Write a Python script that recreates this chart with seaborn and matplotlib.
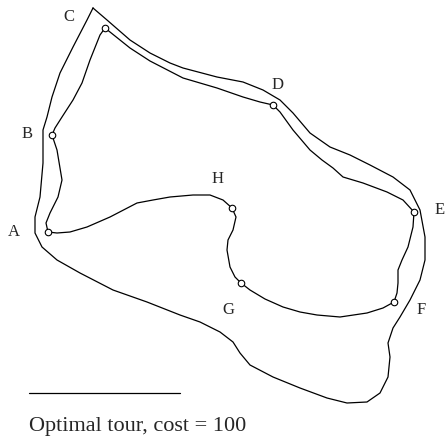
import numpy as np
import pandas as pd
import seaborn as sns
import matplotlib
matplotlib.use('Agg')
import matplotlib.pyplot as plt

# city positions (picture pixels, y downwards) and their labels
cities = ['A', 'B', 'C', 'D', 'E', 'F', 'G', 'H']
city_x = [48, 52, 105, 273, 414, 394, 241, 232]
city_y = [232, 135, 28, 105, 212, 302, 283, 208]
label_x = [14, 27, 69, 278, 440, 421, 228, 218]
label_y = [232, 134, 17, 85, 210, 310, 310, 179]

# the tour through the cities: A H G F E D C B A
tour_x = [48, 57, 70, 87, 110, 137, 153, 170, 193, 210, 223, 232,
          236, 233, 228, 227, 230, 235, 241,
          250, 265, 283, 300, 317, 340, 367, 383, 394,
          397, 398, 398, 402, 408, 413, 414,
          403, 387, 363, 343, 333, 322, 310, 293, 280, 273,
          260, 243, 217, 183, 150, 130, 105,
          100, 90, 82, 73, 62, 55, 52,
          57, 62, 58, 50, 46, 48]
tour_y = [232, 233, 232, 227, 217, 203, 200, 197, 195, 195, 200, 208,
          217, 230, 240, 250, 267, 277, 283,
          290, 299, 307, 312, 315, 317, 313, 308, 302,
          293, 283, 270, 260, 247, 227, 212,
          200, 192, 183, 177, 168, 160, 150, 130, 112, 105,
          102, 97, 88, 78, 61, 48, 28,
          35, 60, 83, 100, 117, 128, 135,
          150, 180, 197, 213, 223, 232]

# the closed outer curve
outer_x = [93, 107, 130, 150, 170, 183, 217, 243, 263, 280, 293, 310, 330,
           350, 370, 393, 410, 420, 425, 425, 420, 410, 400, 393, 388, 390,
           388, 380, 367, 347, 327, 300, 273, 250, 240, 233, 220, 200, 180,
           147, 113, 80, 57, 42, 35, 35, 40, 43, 43, 47, 52, 60, 73, 87, 93]
outer_y = [8, 20, 40, 53, 63, 68, 77, 82, 90, 100, 113, 133, 147,
           155, 165, 177, 190, 210, 237, 260, 280, 300, 317, 328, 343, 357,
           377, 393, 402, 403, 398, 388, 377, 365, 353, 342, 332, 322, 315,
           302, 290, 273, 260, 247, 233, 217, 197, 163, 130, 117, 97, 73, 47, 20, 8]

# scale bar and caption
bar_x = [29, 180]
bar_y = [393, 393]
caption = 'Optimal tour, cost = 100'

sns.set_theme(style='white')
plt.rcParams['font.family'] = ['Liberation Serif', 'DejaVu Serif']

fig = plt.figure(figsize=(4.45, 4.45), dpi=100)
ax = fig.add_axes([0, 0, 1, 1])

outer = pd.DataFrame({'x': outer_x, 'y': outer_y})
tour = pd.DataFrame({'x': tour_x, 'y': tour_y})
sns.lineplot(data=outer, x='x', y='y', sort=False, estimator=None,
             color='black', linewidth=0.9, ax=ax)
sns.lineplot(data=tour, x='x', y='y', sort=False, estimator=None,
             color='black', linewidth=0.9, ax=ax)
sns.lineplot(x=bar_x, y=bar_y, sort=False, estimator=None,
             color='black', linewidth=0.9, ax=ax)
sns.scatterplot(x=city_x, y=city_y, s=22, facecolor='white',
                edgecolor='black', linewidth=0.8, zorder=5, ax=ax)

for name, lx, ly in zip(cities, label_x, label_y):
    ax.text(lx, ly, name, fontsize=12, ha='center', va='center')
ax.text(29, 427, caption, fontsize=16, ha='left', va='center')

ax.set_xlim(0, 445)
ax.set_ylim(445, 0)
ax.axis('off')

plt.savefig('out.png', dpi=100)
